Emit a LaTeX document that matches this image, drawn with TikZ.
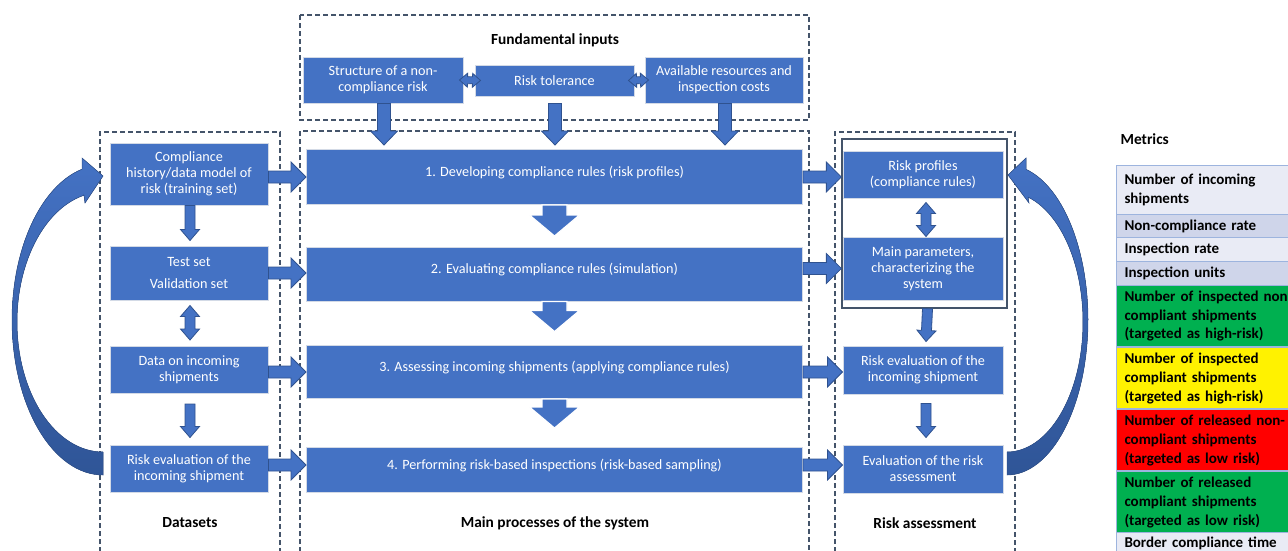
\documentclass[tikz,border=0pt]{standalone}
\usepackage{fontspec}
\setmainfont{Carlito}
\usepackage{tikz}
\usetikzlibrary{calc, positioning}
\definecolor{boxblue}{HTML}{4472C4}
\definecolor{arrowedge}{HTML}{2F528F}
\definecolor{boxedge}{HTML}{D3DAE6}
\definecolor{grpline}{HTML}{44546A}
\definecolor{curvedark}{HTML}{2F5597}
\definecolor{rowlight}{HTML}{E9EBF5}
\definecolor{rowmid}{HTML}{CFD5EA}
\definecolor{rowgreen}{HTML}{00B050}
\definecolor{rowline}{HTML}{9DB4DE}
\newcommand{\barrow}[6][]{%
  \coordinate (ba) at #2; \coordinate (bb) at #3;
  \coordinate (bc) at ($(bb)!#6!(ba)$);
  \filldraw[#1] ($(ba)!#4!90:(bb)$) -- ($(bc)!#4!90:(bb)$) -- ($(bc)!#5!90:(bb)$) -- (bb)
    -- ($(bc)!#5!-90:(bb)$) -- ($(bc)!#4!-90:(bb)$) -- ($(ba)!#4!-90:(bb)$) -- cycle;}
\newcommand{\dbarrow}[6][]{%
  \coordinate (ba) at #2; \coordinate (bb) at #3;
  \coordinate (ca) at ($(ba)!#6!(bb)$); \coordinate (cb) at ($(bb)!#6!(ba)$);
  \filldraw[#1] (ba) -- ($(ca)!#5!90:(bb)$) -- ($(ca)!#4!90:(bb)$) -- ($(cb)!#4!90:(bb)$) -- ($(cb)!#5!90:(bb)$) -- (bb)
    -- ($(cb)!#5!-90:(bb)$) -- ($(cb)!#4!-90:(bb)$) -- ($(ca)!#4!-90:(bb)$) -- ($(ca)!#5!-90:(bb)$) -- cycle;}

\begin{document}
\begin{tikzpicture}[x=1pt, y=-1pt,
  box/.style={draw=boxedge, line width=1pt, fill=boxblue, text=white, align=center, inner sep=2pt, font=\fontsize{14.2}{15.8}\selectfont},
  side/.style={box, minimum width=158pt},
  proc/.style={box, minimum width=496pt, text depth=12pt},
  arr/.style={fill=boxblue, draw=arrowedge, line width=0.8pt},
  marr/.style={fill=boxblue, draw=white, line width=1.2pt},
  grp/.style={draw=grpline, line width=1.1pt, dash pattern=on 5pt off 3pt},
  title/.style={font=\bfseries\fontsize{15.4}{18}\selectfont},
  metric/.style={anchor=north west, minimum width=200pt, text width=185pt, inner xsep=8pt, inner ysep=0pt, align=left, draw=rowline, line width=1pt, font=\bfseries\fontsize{15}{19}\selectfont},
  curved/.style={top color=boxblue, bottom color=curvedark, draw=arrowedge, line width=0.5pt}]
  \useasboundingbox (0,0) rectangle (1288,550);
  \clip (0,0) rectangle (1288,550);

  \draw[grp] (300,15) rectangle (809,120);
  \draw[grp] (100,560) |- (280,132) -- (280,560);
  \draw[grp] (300,560) |- (809,131) -- (809,560);
  \draw[grp] (835,560) |- (1015,132) -- (1015,560);

  \node[title] (FI) at (555,40) {Fundamental inputs};
  \node[box, minimum width=160pt, minimum height=46pt] (SR) at (383,80) {Structure of a non-\\compliance risk};
  \node[box, minimum width=159pt, minimum height=31pt] (RT) at (554.5,80.5) {Risk tolerance};
  \node[box, minimum width=158pt, minimum height=46pt] (AR) at (724,80) {Available resources and\\inspection costs};

  \node[side, minimum height=62pt] (D1) at (189,174) {Compliance\\history/data model of\\risk (training set)};
  \node[side, minimum height=54pt] (D2) at (189,273) {Test set\\[6pt]Validation set};
  \node[side, minimum height=47pt] (D3) at (189,370) {Data on incoming\\shipments};
  \node[side, minimum height=47pt] (D4) at (189,468.5) {Risk evaluation of the\\incoming shipment};

  \node[proc, minimum height=55pt] (P1) at (554.5,177) {1. Developing compliance rules (risk profiles)};
  \node[proc, minimum height=54pt] (P2) at (554.5,274) {2. Evaluating compliance rules (simulation)};
  \node[proc, minimum height=53pt] (P3) at (554.5,372) {3. Assessing incoming shipments (applying compliance rules)};
  \node[proc, minimum height=45pt] (P4) at (554.5,470) {4. Performing risk-based inspections (risk-based sampling)};

  \node[draw=grpline, line width=1.3pt, minimum width=165pt, minimum height=169pt] (RF) at (924.5,223.5) {};
  \node[side, minimum width=160pt, minimum height=47pt] (R1) at (923,174.5) {Risk profiles\\(compliance rules)};
  \node[side, minimum width=160pt, minimum height=63pt] (R2) at (923,268.5) {Main parameters,\\characterizing the\\system};
  \node[side, minimum width=160pt, minimum height=48pt] (R3) at (923,370) {Risk evaluation of the\\incoming shipment};
  \node[side, minimum width=160pt, minimum height=48pt] (R4) at (923,469) {Evaluation of the risk\\assessment};

  \node[title] (DS) at (190,523) {Datasets};
  \node[title] (MP) at (555,523) {Main processes of the system};
  \node[title] (RA) at (925,523) {Risk assessment};

  \coordinate (t1) at (384,145);
  \coordinate (t2) at (555,145);
  \coordinate (t3) at (725,145);
  \barrow[arr]{(SR.south -| t1)}{(t1)}{6.5pt}{13.5pt}{14pt}
  \barrow[arr]{(SR.south -| t2)}{(t2)}{6.5pt}{13.5pt}{14pt}
  \barrow[arr]{(AR.south -| t3)}{(t3)}{6.5pt}{13.5pt}{14pt}
  \dbarrow[arr]{([xshift=-4pt]SR.east)}{([xshift=6pt]RT.west)}{3.5pt}{7pt}{8pt}
  \dbarrow[arr]{([xshift=-6pt]RT.east)}{([xshift=4pt]AR.west)}{3.5pt}{7pt}{8pt}

  \barrow[arr]{(D1.east |- P1.west)}{(P1.west)}{6pt}{15pt}{15pt}
  \barrow[arr]{(D2.east)}{(D2.east -| P2.west)}{6pt}{15pt}{15pt}
  \barrow[arr]{(D3.east |- P3.west)}{(P3.west)}{6pt}{15pt}{15pt}
  \barrow[arr]{(D4.east |- 0,465)}{(P4.west |- 0,465)}{6pt}{15pt}{15pt}
  \barrow[arr]{(P1.east)}{(P1.east -| RF.west)}{6pt}{15pt}{15pt}
  \barrow[arr]{(P2.east |- R2.west)}{(RF.west |- R2.west)}{6pt}{15pt}{15pt}
  \barrow[arr]{(P3.east)}{(P3.east -| R3.west)}{6pt}{15pt}{15pt}
  \barrow[arr]{(P4.east |- 0,465)}{(R4.west |- 0,465)}{6pt}{15pt}{15pt}

  \barrow[marr]{(P1.south)}{([yshift=-31pt]P1.south)}{12.5pt}{25pt}{21pt}
  \barrow[marr]{(P2.south)}{([yshift=-30pt]P2.south)}{12.5pt}{25pt}{21pt}
  \barrow[marr]{(P3.south)}{([yshift=-29pt]P3.south)}{12.5pt}{25pt}{21pt}

  \barrow[arr]{([xshift=1pt]D1.south)}{([xshift=1pt,yshift=5pt]D2.north)}{5pt}{9.5pt}{11pt}
  \dbarrow[arr]{([xshift=1pt,yshift=-5pt]D2.south)}{([xshift=1pt,yshift=6pt]D3.north)}{5pt}{9.5pt}{11pt}
  \barrow[arr]{([xshift=1pt,yshift=-10pt]D3.south)}{([xshift=1pt,yshift=7pt]D4.north)}{5pt}{9.5pt}{11pt}
  \dbarrow[arr]{([xshift=3pt,yshift=-4pt]R1.south)}{([xshift=3pt]R2.north)}{5pt}{9.5pt}{11pt}
  \barrow[arr]{([xshift=3pt]RF.south)}{([xshift=3pt,yshift=4pt]R3.north)}{5pt}{9.5pt}{11pt}
  \barrow[arr]{([xshift=3pt,yshift=-9pt]R3.south)}{([xshift=3pt,yshift=7pt]R4.north)}{5pt}{9.5pt}{11pt}

  \fill[curved] (82,158) -- (103,176) -- (85,203) -- (84,195.2)
    -- plot[domain=257.24:90, samples=60] ({103+86*cos(\x)},{322+130*sin(\x)})
    -- plot[domain=90:256.66, samples=60] ({103+91*cos(\x)},{320+155*sin(\x)}) -- cycle;
  \fill[curved] (1026,158) -- (1008,175) -- (1029,203) -- (1028,197)
    -- plot[domain=286.04:450, samples=60] ({1007+76*cos(\x)},{322+130*sin(\x)})
    -- plot[domain=450:283.57, samples=60] ({1007+81*cos(\x)},{320+155*sin(\x)}) -- cycle;

  \node[title, anchor=west] (MT) at (1117,139) {Metrics};
  \node[metric, fill=rowlight, minimum height=49pt] (M1) at (1116,165) {Number of incoming\\shipments};
  \node[metric, fill=rowmid, minimum height=23pt] (M2) at (1116,214) {Non-compliance rate};
  \node[metric, fill=rowlight, minimum height=24pt] (M3) at (1116,237) {Inspection rate};
  \node[metric, fill=rowmid, minimum height=24pt] (M4) at (1116,261) {Inspection units};
  \node[metric, fill=rowgreen, minimum height=61pt] (M5) at (1116,285) {Number of inspected non-\\compliant shipments\\(targeted as high-risk)};
  \node[metric, fill=yellow, minimum height=61pt] (M6) at (1116,347) {Number of inspected\\compliant shipments\\(targeted as high-risk)};
  \node[metric, fill=red, minimum height=61pt] (M7) at (1116,409) {Number of released non-\\compliant shipments\\(targeted as low risk)};
  \node[metric, fill=rowgreen, minimum height=61pt] (M8) at (1116,471) {Number of released\\compliant shipments\\(targeted as low risk)};
  \node[metric, fill=rowlight, minimum height=22pt] (M9) at (1116,532) {Border compliance time};
\end{tikzpicture}
\end{document}
